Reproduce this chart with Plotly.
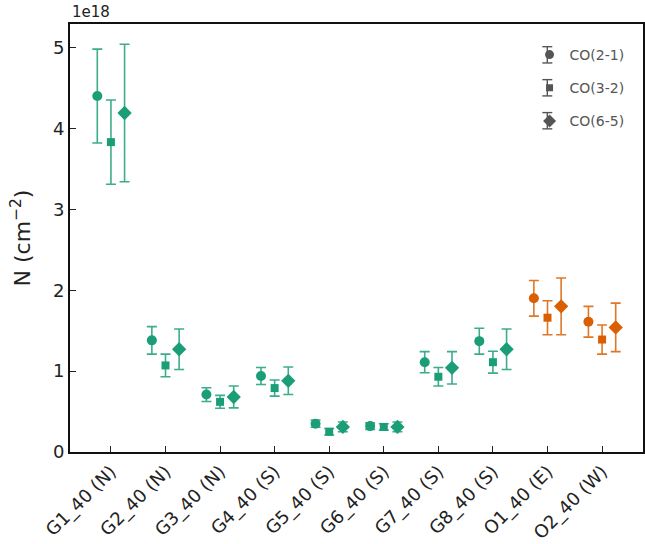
import plotly.graph_objects as go

# Column densities in units of 1e18 cm^-2 for each region
regions = ["G1_40 (N)", "G2_40 (N)", "G3_40 (N)", "G4_40 (S)", "G5_40 (S)",
           "G6_40 (S)", "G7_40 (S)", "G8_40 (S)", "O1_40 (E)", "O2_40 (W)"]

n_co21 = [4.40, 1.38, 0.71, 0.94, 0.35, 0.32, 1.11, 1.37, 1.90, 1.61]
e_co21 = [0.58, 0.17, 0.085, 0.105, 0.045, 0.04, 0.13, 0.16, 0.22, 0.19]

n_co32 = [3.83, 1.07, 0.62, 0.79, 0.25, 0.31, 0.93, 1.11, 1.66, 1.39]
e_co32 = [0.52, 0.14, 0.08, 0.10, 0.04, 0.04, 0.115, 0.135, 0.21, 0.18]

n_co65 = [4.19, 1.27, 0.68, 0.88, 0.31, 0.31, 1.04, 1.27, 1.80, 1.54]
e_co65 = [0.85, 0.25, 0.135, 0.17, 0.06, 0.06, 0.20, 0.25, 0.35, 0.30]

GREEN = "#1b9e77"
ORANGE = "#d95f02"
GREEN_ERR = "rgba(27,158,119,0.85)"
ORANGE_ERR = "rgba(217,95,2,0.85)"
GREY = "#555555"

lines = [
    ("CO(2-1)", n_co21, e_co21, "circle", 10, -0.25),
    ("CO(3-2)", n_co32, e_co32, "square", 8, 0.0),
    ("CO(6-5)", n_co65, e_co65, "diamond", 11, 0.25),
]

fig = go.Figure()

for name, vals, errs, symbol, size, shift in lines:
    for grp, colour, ecolour in (("G", GREEN, GREEN_ERR), ("O", ORANGE, ORANGE_ERR)):
        idx = [i for i, r in enumerate(regions) if r.startswith(grp)]
        fig.add_trace(go.Scatter(
            x=[i + shift for i in idx],
            y=[vals[i] for i in idx],
            error_y=dict(type="data", array=[errs[i] for i in idx], visible=True,
                         color=ecolour, thickness=1.6, width=5),
            mode="markers",
            marker=dict(symbol=symbol, size=size, color=colour),
            showlegend=False,
        ))
    # grey legend entry for the transition
    fig.add_trace(go.Scatter(
        x=[None], y=[None], mode="markers", name=name, legendgroup=name,
        marker=dict(symbol=symbol, size=size - 1, color=GREY),
        showlegend=True,
    ))

# small error-bar glyphs behind the legend markers
legend_x = 0.833
legend_rows = [0.928, 0.851, 0.774]
bar_half, cap_half = 0.019, 0.0087
for yy in legend_rows:
    fig.add_shape(type="line", xref="paper", yref="paper", x0=legend_x, x1=legend_x,
                  y0=yy - bar_half, y1=yy + bar_half, line=dict(color=GREY, width=1.4))
    for cap in (yy - bar_half, yy + bar_half):
        fig.add_shape(type="line", xref="paper", yref="paper",
                      x0=legend_x - cap_half, x1=legend_x + cap_half, y0=cap, y1=cap,
                      line=dict(color=GREY, width=1.4))

fig.add_annotation(text="1e18", xref="paper", yref="paper", x=0.0, y=1.0,
                   xanchor="left", yanchor="bottom", showarrow=False,
                   font=dict(size=15, color="#222222"), yshift=1)

fig.update_layout(
    width=645, height=544,
    margin=dict(l=70, r=0, t=24, b=91),
    paper_bgcolor="white", plot_bgcolor="white",
    font=dict(family="DejaVu Sans", color="#222222"),
    legend=dict(x=0.802, y=0.965, xanchor="left", yanchor="top",
                font=dict(size=14, color=GREY), bgcolor="rgba(0,0,0,0)",
                tracegroupgap=12, itemwidth=30),
    xaxis=dict(range=[-0.75, 9.75], tickvals=list(range(len(regions))),
               ticktext=regions, tickangle=-45, ticks="inside", ticklen=6,
               tickwidth=1.3, tickcolor="#222222", showgrid=False, zeroline=False,
               showline=True, linecolor="#111111", linewidth=2, mirror=True,
               tickfont=dict(size=18)),
    yaxis=dict(range=[0, 5.29], tickvals=[0, 1, 2, 3, 4, 5], ticks="inside",
               ticklen=6, tickwidth=1.3, tickcolor="#222222", showgrid=False,
               zeroline=False, showline=True, linecolor="#111111", linewidth=2,
               mirror=True, tickfont=dict(size=18),
               title=dict(text="N (cm<sup>−2</sup>)", font=dict(size=22), standoff=16)),
)

fig.write_html("out.html")
